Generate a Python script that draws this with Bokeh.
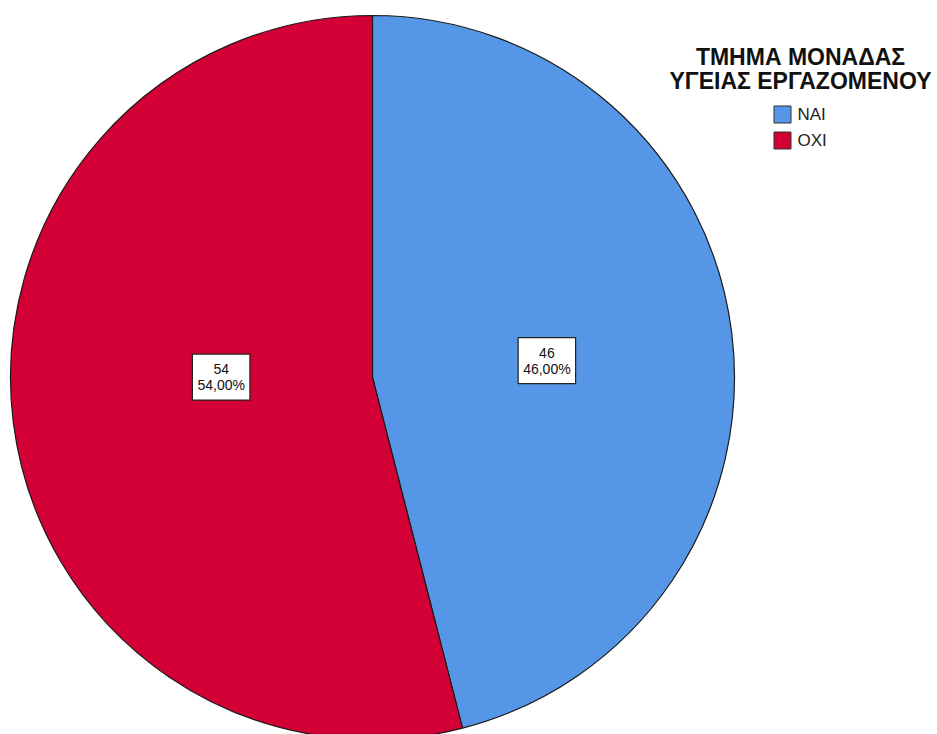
import math
from bokeh.plotting import figure
from bokeh.models import Range1d, ColumnDataSource
from bokeh.core.properties import value
from bokeh.embed import file_html
from bokeh.resources import INLINE

categories = ["ΝΑΙ", "ΟΧΙ"]
counts = [46, 54]
percent_labels = ["46,00%", "54,00%"]
colors = ["#5596E6", "#D20034"]
legend_title = ["ΤΜΗΜΑ ΜΟΝΑΔΑΣ", "ΥΓΕΙΑΣ ΕΡΓΑΖΟΜΕΝΟΥ"]

W, H = 937, 734
p = figure(width=W, height=H, output_backend="svg", toolbar_location=None,
           x_range=Range1d(0, W), y_range=Range1d(0, H), min_border=0)
p.axis.visible = False
p.grid.visible = False
p.outline_line_color = None

cx, cy, r = 372, 357, 362
total = sum(counts)
starts, ends, lx, ly, texts = [], [], [], [], []
acc = 0
for c, pl in zip(counts, percent_labels):
    a0 = math.pi / 2 - 2 * math.pi * (acc + c) / total
    a1 = math.pi / 2 - 2 * math.pi * acc / total
    starts.append(a0)
    ends.append(a1)
    mid = (a0 + a1) / 2
    half = (a1 - a0) / 2
    d = 1.07 * 2 * r * math.sin(half) / (3 * half)
    lx.append(cx + d * math.cos(mid) - 1.5)
    ly.append(cy + 0.4 * d * math.sin(mid) + 8)
    texts.append(f"{c}\n{pl}")
    acc += c

src = ColumnDataSource(dict(start=starts, end=ends, color=colors, lx=lx, ly=ly, text=texts))
p.wedge(x=cx, y=cy, radius=r, start_angle="start", end_angle="end", direction="anticlock",
        fill_color="color", line_color="#1a1a1a", line_width=1.2, source=src)

p.text(x="lx", y="ly", text="text", source=src, text_align="center", text_baseline="middle",
       text_font=value("Liberation Sans"), text_font_size="14px", text_color="#111111",
       text_line_height=1.0,
       background_fill_color="white", border_line_color="#222222", border_line_width=1.2,
       padding=(5, 7))

# legend
p.text(x=[800, 800], y=[678, 654], text=legend_title, text_align="center", text_baseline="middle",
       text_font=value("Liberation Sans"), text_font_style="bold", text_font_size="23px",
       text_color="#111111")
leg_y = [620, 594]
p.rect(x=[782, 782], y=leg_y, width=17, height=17, fill_color=colors, line_color="#333333", line_width=1)
p.text(x=[797, 797], y=leg_y, text=categories, text_align="left", text_baseline="middle",
       text_font=value("Liberation Sans"), text_font_size="17px", text_color="#222222")

open("out.html", "w").write(file_html(p, INLINE))
